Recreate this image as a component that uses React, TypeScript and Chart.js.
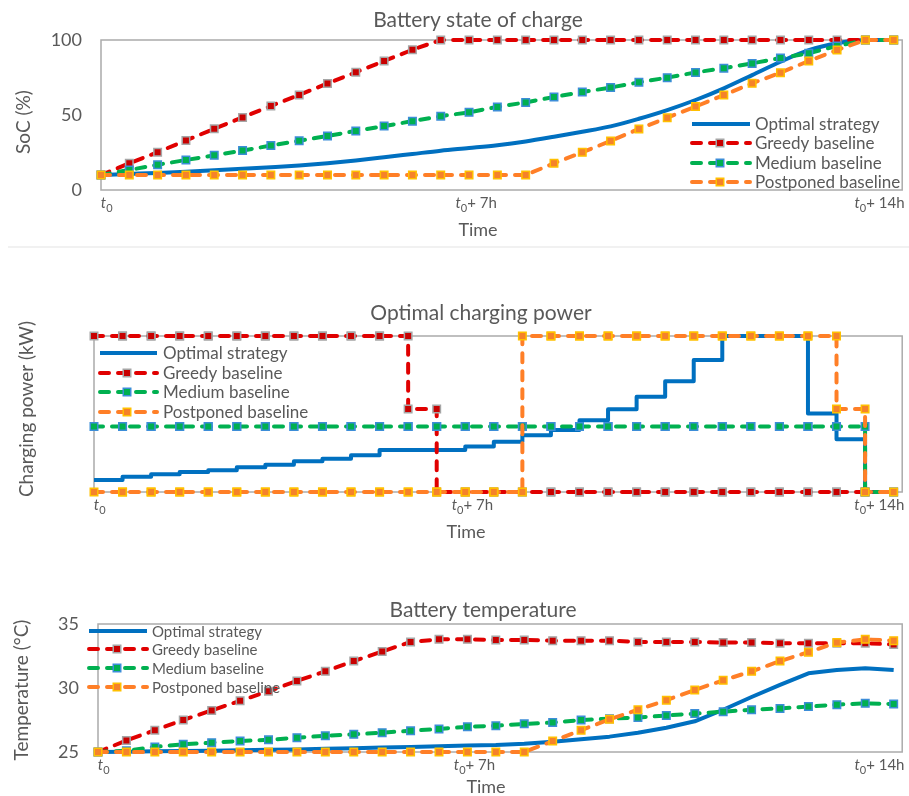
import { useEffect, useRef } from 'react';
import { Chart, registerables } from 'chart.js';

Chart.register(...registerables);

const FONT = "Lato, 'Open Sans', 'DejaVu Sans', sans-serif";
const TEXT = '#595959';
const W = 909;
const X_MAX = 28.3;

// ---- labels ----
const seriesNames = ['Optimal strategy', 'Greedy baseline', 'Medium baseline', 'Postponed baseline'];
const xTickSuffix = ['', '+ 7h', '+ 14h'];
const xTickIndex = [0.2, 13.25, 27.5];

// ---- Battery state of charge (%), one value per half hour ----
const socOptimal = [10, 10.7, 11.4, 12.2, 13.1, 14.1, 15.2, 16.4, 17.9, 19.7, 21.8, 24, 26.2, 28, 29.9, 32.4, 35.5, 38.8, 42.4, 47.5, 53.3, 60, 67.8, 76.6, 85.5, 93.2, 97.8, 100, 100];
const socGreedy = [10, 17.8, 25.2, 33, 40.8, 48.4, 56, 63.4, 71, 78.5, 86, 93.5, 100, 100, 100, 100, 100, 100, 100, 100, 100, 100, 100, 100, 100, 100, 100, 100, 100];
const socMedium = [10, 13.4, 16.8, 20, 23.1, 26.3, 29.6, 32.8, 36, 39.4, 42.6, 45.9, 49.2, 51.8, 55.4, 58.4, 62, 65.3, 68.3, 71.8, 74.9, 78.4, 81.2, 84.4, 88, 91.2, 96, 100, 100];
const socPostponed = [10, 10, 10, 10, 10, 10, 10, 10, 10, 10, 10, 10, 10, 10, 10, 10, 17.8, 25.1, 32.7, 40.7, 48.2, 55.6, 63.3, 71.1, 78.2, 86, 93.3, 100, 100];

// ---- Charging power (fraction of max), one value per half-hour interval ----
const powOptimal = [0.077, 0.098, 0.113, 0.128, 0.139, 0.158, 0.175, 0.197, 0.213, 0.235, 0.269, 0.269, 0.269, 0.292, 0.322, 0.363, 0.397, 0.46, 0.53, 0.61, 0.71, 0.846, 1, 1, 1, 0.504, 0.338, 0];
const powGreedy = [1, 1, 1, 1, 1, 1, 1, 1, 1, 1, 1, 0.532, 0, 0, 0, 0, 0, 0, 0, 0, 0, 0, 0, 0, 0, 0, 0, 0];
const powMedium = [0.42, 0.42, 0.42, 0.42, 0.42, 0.42, 0.42, 0.42, 0.42, 0.42, 0.42, 0.42, 0.42, 0.42, 0.42, 0.42, 0.42, 0.42, 0.42, 0.42, 0.42, 0.42, 0.42, 0.42, 0.42, 0.42, 0.42, 0];
const powPostponed = [0, 0, 0, 0, 0, 0, 0, 0, 0, 0, 0, 0, 0, 0, 0, 1, 1, 1, 1, 1, 1, 1, 1, 1, 1, 1, 0.532, 0];

// ---- Battery temperature (°C) ----
const tempOptimal = [25, 25.02, 25.05, 25.08, 25.1, 25.13, 25.17, 25.2, 25.25, 25.3, 25.35, 25.4, 25.45, 25.5, 25.55, 25.65, 25.8, 26.0, 26.2, 26.5, 26.9, 27.4, 28.3, 29.3, 30.25, 31.15, 31.4, 31.55, 31.4];
const tempGreedy = [25, 25.9, 26.7, 27.5, 28.25, 29.0, 29.75, 30.55, 31.3, 32.1, 32.85, 33.6, 33.8, 33.8, 33.75, 33.75, 33.7, 33.7, 33.7, 33.6, 33.6, 33.6, 33.55, 33.55, 33.5, 33.5, 33.5, 33.5, 33.4];
const tempMedium = [25, 25.1, 25.4, 25.6, 25.73, 25.86, 25.95, 26.12, 26.27, 26.38, 26.51, 26.66, 26.8, 26.97, 27.05, 27.2, 27.3, 27.5, 27.6, 27.7, 27.85, 28.0, 28.15, 28.3, 28.4, 28.55, 28.7, 28.8, 28.75];
const tempPostponed = [25, 25, 25, 25, 25, 25, 25, 25, 25, 25, 25, 25, 25, 25, 25, 25, 25.85, 26.7, 27.55, 28.3, 29.05, 29.85, 30.6, 31.3, 32.1, 32.8, 33.55, 33.8, 33.7];

type Marker = { fill: string; stroke: string } | null;
const STYLES: { color: string; dash: number[]; marker: Marker }[] = [
  { color: '#0070C0', dash: [], marker: null },
  { color: '#E00000', dash: [9, 9], marker: { fill: '#C80000', stroke: '#A6A6A6' } },
  { color: '#00B050', dash: [9, 9], marker: { fill: '#00B050', stroke: '#3C8DD8' } },
  { color: '#FF7F27', dash: [9, 9], marker: { fill: '#F5822A', stroke: '#FFC000' } },
];

const toPoints = (arr: number[]) => arr.map((y, x) => ({ x, y }));
const toSteps = (arr: number[]) => arr.flatMap((y, i) => [{ x: i, y }, { x: i + 1, y }]);

function ds(i: number, data: { x: number; y: number }[], extra: any = {}) {
  const s = STYLES[i];
  return {
    label: seriesNames[i],
    data,
    borderColor: s.color,
    backgroundColor: s.color,
    borderWidth: 4,
    borderDash: s.dash,
    borderCapStyle: i === 0 ? 'butt' : 'round',
    borderJoinStyle: 'round',
    pointStyle: 'rect',
    pointRadius: s.marker ? 5.3 : 0,
    pointHoverRadius: s.marker ? 5.3 : 0,
    pointBackgroundColor: s.marker ? s.marker.fill : s.color,
    pointBorderColor: s.marker ? s.marker.stroke : s.color,
    pointBorderWidth: 1.5,
    fill: false,
    tension: 0,
    clip: false,
    order: 4 - i,
    ...extra,
  };
}

function drawMarker(ctx: CanvasRenderingContext2D, x: number, y: number, m: { fill: string; stroke: string }) {
  const h = 3.75;
  ctx.fillStyle = m.fill;
  ctx.strokeStyle = m.stroke;
  ctx.lineWidth = 1.5;
  ctx.beginPath();
  ctx.rect(x - h, y - h, 2 * h, 2 * h);
  ctx.fill();
  ctx.stroke();
}

type Area = { left: number; right: number; top: number; bottom: number };
interface PanelCfg {
  top: number;
  height: number;
  area: Area;
  datasets: any[];
  yMin: number;
  yMax: number;
  yStep?: number;
  yTicks: boolean;
  title: string;
  titleX: number;
  titleY: number;
  yTitle: string;
  yTitleX: number;
  yTitleY: number;
  xTitleX: number;
  xTitleY: number;
  tickY: number;
  legend: { x0: number; x1: number; xm: number; tx: number; rows: number[]; size: number };
  sepY?: number;
}

function drawTickLabel(ctx: CanvasRenderingContext2D, cx: number, by: number, suffix: string) {
  const big = 15;
  const small = 11;
  ctx.font = `italic ${big}px ${FONT}`;
  const wt = ctx.measureText('t').width;
  ctx.font = `${small}px ${FONT}`;
  const w0 = ctx.measureText('0').width;
  ctx.font = `${big}px ${FONT}`;
  const ws = suffix ? ctx.measureText(suffix).width : 0;
  let x = cx - (wt + w0 + ws) / 2;
  ctx.fillStyle = TEXT;
  ctx.textAlign = 'left';
  ctx.textBaseline = 'alphabetic';
  ctx.font = `italic ${big}px ${FONT}`;
  ctx.fillText('t', x, by);
  x += wt;
  ctx.font = `${small}px ${FONT}`;
  ctx.fillText('0', x, by + 3.5);
  x += w0;
  if (suffix) {
    ctx.font = `${big}px ${FONT}`;
    ctx.fillText(suffix, x, by);
  }
}

function Panel({ cfg }: { cfg: PanelCfg }) {
  const ref = useRef<HTMLCanvasElement>(null);
  useEffect(() => {
    const c = cfg;
    const a = c.area;
    const decor = {
      id: 'decor',
      beforeDatasetsDraw(chart: any) {
        const ctx: CanvasRenderingContext2D = chart.ctx;
        const ca = chart.chartArea;
        ctx.save();
        ctx.strokeStyle = '#ABABAB';
        ctx.lineWidth = 1.5;
        ctx.strokeRect(ca.left, ca.top, ca.right - ca.left, ca.bottom - ca.top);
        if (c.sepY !== undefined) {
          ctx.strokeStyle = '#EDEDED';
          ctx.lineWidth = 1.5;
          ctx.beginPath();
          ctx.moveTo(8, c.sepY);
          ctx.lineTo(W, c.sepY);
          ctx.stroke();
        }
        ctx.restore();
      },
      afterDatasetsDraw(chart: any) {
        const ctx: CanvasRenderingContext2D = chart.ctx;
        const L = c.legend;
        seriesNames.forEach((name, i) => {
          const s = STYLES[i];
          const y = L.rows[i];
          ctx.save();
          ctx.strokeStyle = s.color;
          ctx.lineWidth = 4;
          ctx.setLineDash(s.dash);
          ctx.lineCap = i === 0 ? 'butt' : 'round';
          ctx.beginPath();
          ctx.moveTo(L.x0, y);
          ctx.lineTo(L.x1, y);
          ctx.stroke();
          ctx.setLineDash([]);
          if (s.marker) drawMarker(ctx, L.xm, y, s.marker);
          ctx.fillStyle = TEXT;
          ctx.font = `${L.size}px ${FONT}`;
          ctx.textAlign = 'left';
          ctx.textBaseline = 'middle';
          ctx.fillText(name, L.tx, y + 1);
          ctx.restore();
        });
      },
      afterDraw(chart: any) {
        const ctx: CanvasRenderingContext2D = chart.ctx;
        const xs = chart.scales.x;
        ctx.save();
        ctx.fillStyle = TEXT;
        ctx.textBaseline = 'alphabetic';
        ctx.textAlign = 'center';
        ctx.font = `21px ${FONT}`;
        ctx.fillText(c.title, c.titleX, c.titleY);
        ctx.font = `18px ${FONT}`;
        ctx.fillText('Time', c.xTitleX, c.xTitleY);
        ctx.save();
        ctx.translate(c.yTitleX, c.yTitleY);
        ctx.rotate(-Math.PI / 2);
        ctx.font = `19px ${FONT}`;
        ctx.fillText(c.yTitle, 0, 0);
        ctx.restore();
        xTickIndex.forEach((v, i) => {
          drawTickLabel(ctx, xs.getPixelForValue(v), c.tickY, xTickSuffix[i]);
        });
        ctx.restore();
      },
    };
    const chart = new Chart(ref.current as HTMLCanvasElement, {
      type: 'line',
      data: { datasets: c.datasets },
      options: {
        animation: false,
        responsive: false,
        devicePixelRatio: 1,
        events: [],
        layout: { padding: { left: 0, top: a.top, right: W - a.right, bottom: 0 } },
        plugins: {
          legend: { display: false },
          title: { display: false },
          tooltip: { enabled: false },
        },
        scales: {
          x: {
            type: 'linear',
            min: 0,
            max: X_MAX,
            grid: { display: false, drawTicks: false },
            border: { display: false },
            ticks: { display: false },
            afterFit: (s: any) => {
              s.height = c.height - a.bottom;
            },
          },
          y: {
            type: 'linear',
            min: c.yMin,
            max: c.yMax,
            grid: { display: false, drawTicks: false },
            border: { display: false },
            ticks: {
              display: c.yTicks,
              stepSize: c.yStep,
              padding: 19,
              color: TEXT,
              font: { family: FONT, size: 18 },
            },
            afterFit: (s: any) => {
              s.width = a.left;
            },
          },
        },
      } as any,
      plugins: [decor],
    });
    return () => chart.destroy();
  }, [cfg]);
  return (
    <canvas
      ref={ref}
      width={W}
      height={cfg.height}
      style={{ position: 'absolute', left: 0, top: cfg.top, display: 'block' }}
    />
  );
}

const socCfg: PanelCfg = {
  top: 0,
  height: 250,
  area: { left: 101, right: 905, top: 40, bottom: 190 },
  datasets: [
    ds(0, toPoints(socOptimal), { cubicInterpolationMode: 'monotone' }),
    ds(1, toPoints(socGreedy)),
    ds(2, toPoints(socMedium)),
    ds(3, toPoints(socPostponed)),
  ],
  yMin: 0,
  yMax: 100,
  yStep: 50,
  yTicks: true,
  title: 'Battery state of charge',
  titleX: 478,
  titleY: 27,
  yTitle: 'SoC (%)',
  yTitleX: 30,
  yTitleY: 122,
  xTitleX: 478,
  xTitleY: 236,
  tickY: 208,
  legend: { x0: 692, x1: 750, xm: 720, tx: 755, rows: [124, 143, 163, 182], size: 17 },
  sepY: 247,
};

const powCfg: PanelCfg = {
  top: 250,
  height: 295,
  area: { left: 94, right: 903, top: 86, bottom: 242 },
  datasets: [
    ds(0, toSteps(powOptimal)),
    ds(1, toSteps(powGreedy)),
    ds(2, toSteps(powMedium)),
    ds(3, toSteps(powPostponed)),
  ],
  yMin: 0,
  yMax: 1,
  yTicks: false,
  title: 'Optimal charging power',
  titleX: 481,
  titleY: 70,
  yTitle: 'Charging power (kW)',
  yTitleX: 33,
  yTitleY: 159,
  xTitleX: 466,
  xTitleY: 288,
  tickY: 260,
  legend: { x0: 100, x1: 157, xm: 127, tx: 163, rows: [103, 123, 142, 162], size: 17 },
};

const tempCfg: PanelCfg = {
  top: 545,
  height: 251,
  area: { left: 98, right: 903, top: 79, bottom: 207 },
  datasets: [
    ds(0, toPoints(tempOptimal)),
    ds(1, toPoints(tempGreedy)),
    ds(2, toPoints(tempMedium)),
    ds(3, toPoints(tempPostponed)),
  ],
  yMin: 25,
  yMax: 35,
  yStep: 5,
  yTicks: true,
  title: 'Battery temperature',
  titleX: 483,
  titleY: 72,
  yTitle: 'Temperature (°C)',
  yTitleX: 28,
  yTitleY: 145,
  xTitleX: 486,
  xTitleY: 248,
  tickY: 225,
  legend: { x0: 89, x1: 147, xm: 117, tx: 152, rows: [86, 104, 123, 142], size: 15 },
};

export default function App() {
  return (
    <div
      style={{
        position: 'fixed',
        left: 0,
        top: 0,
        width: W,
        height: 796,
        overflow: 'hidden',
        background: '#ffffff',
      }}
    >
      <Panel cfg={socCfg} />
      <Panel cfg={powCfg} />
      <Panel cfg={tempCfg} />
    </div>
  );
}
